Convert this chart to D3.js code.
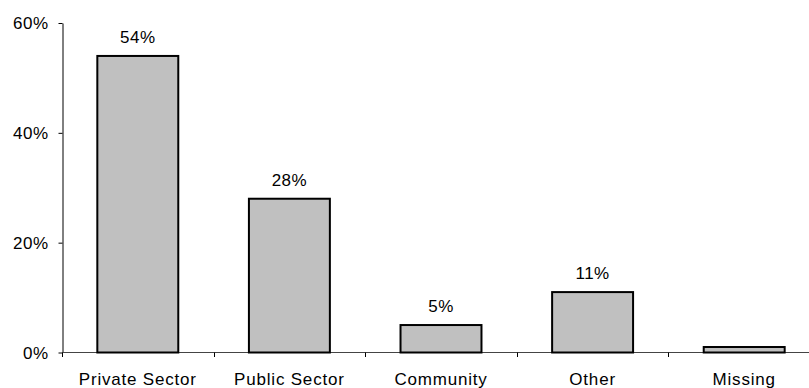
<!DOCTYPE html>
<html><head><meta charset="utf-8">
<script src="https://cdn.jsdelivr.net/npm/d3@7"></script>
<style>body{margin:0;background:#fff;}svg{display:block;font-family:"Liberation Sans",Arial,sans-serif;}</style>
</head><body>
<svg id="c" width="809" height="388"></svg>
<script>
const categories = ["Private Sector","Public Sector","Community","Other","Missing"];
const values = [54,28,5,11,1];
const valueLabels = ["54%","28%","5%","11%",""];
const yTicks = [0,20,40,60];

const svg = d3.select("#c");
const x = d3.scaleBand().domain(categories).range([62,820]).paddingInner(0.466).paddingOuter(0.233);
const y = d3.scaleLinear().domain([0,60]).range([352.5,23]);

// y axis
const yAxis = svg.append("g").attr("transform","translate(62.5,0)")
  .call(d3.axisLeft(y).tickValues(yTicks).tickFormat(d=>d+"%").tickSize(4).tickSizeOuter(0));
yAxis.attr("font-family",null);
yAxis.select(".domain").attr("stroke","#000");
yAxis.selectAll(".tick line").attr("stroke","#000");
yAxis.selectAll("text").attr("font-size",17).attr("fill","#000").attr("x",-14).attr("dy","0.35em")
  .attr("letter-spacing","0.5px");

// x axis line and ticks
svg.append("line").attr("x1",62).attr("x2",809).attr("y1",352.5).attr("y2",352.5).attr("stroke","#444");
const bounds = d3.range(categories.length+1).map(i=>x.range()[0]+i*x.step());
svg.selectAll(".xt").data(bounds.filter(b=>b<809)).enter().append("line")
  .attr("x1",d=>Math.round(d)+0.5).attr("x2",d=>Math.round(d)+0.5)
  .attr("y1",352.5).attr("y2",357).attr("stroke","#000");

// bars
svg.selectAll(".bar").data(categories).enter().append("rect")
  .attr("x",d=>x(d)).attr("width",x.bandwidth())
  .attr("y",(d,i)=>y(values[i])).attr("height",(d,i)=>y(0)-y(values[i]))
  .attr("fill","#c0c0c0").attr("stroke","#000").attr("stroke-width",2);

// value labels
svg.selectAll(".vl").data(categories).enter().append("text")
  .attr("x",d=>x(d)+x.bandwidth()/2).attr("y",(d,i)=>y(values[i])-13)
  .attr("text-anchor","middle").attr("font-size",17).attr("fill","#000")
  .attr("letter-spacing","0.5px")
  .text((d,i)=>valueLabels[i]);

// category labels
svg.selectAll(".cl").data(categories).enter().append("text")
  .attr("x",d=>x(d)+x.bandwidth()/2).attr("y",385)
  .attr("text-anchor","middle").attr("font-size",17).attr("fill","#000")
  .attr("letter-spacing","0.8px")
  .text(d=>d);
</script>
</body></html>
